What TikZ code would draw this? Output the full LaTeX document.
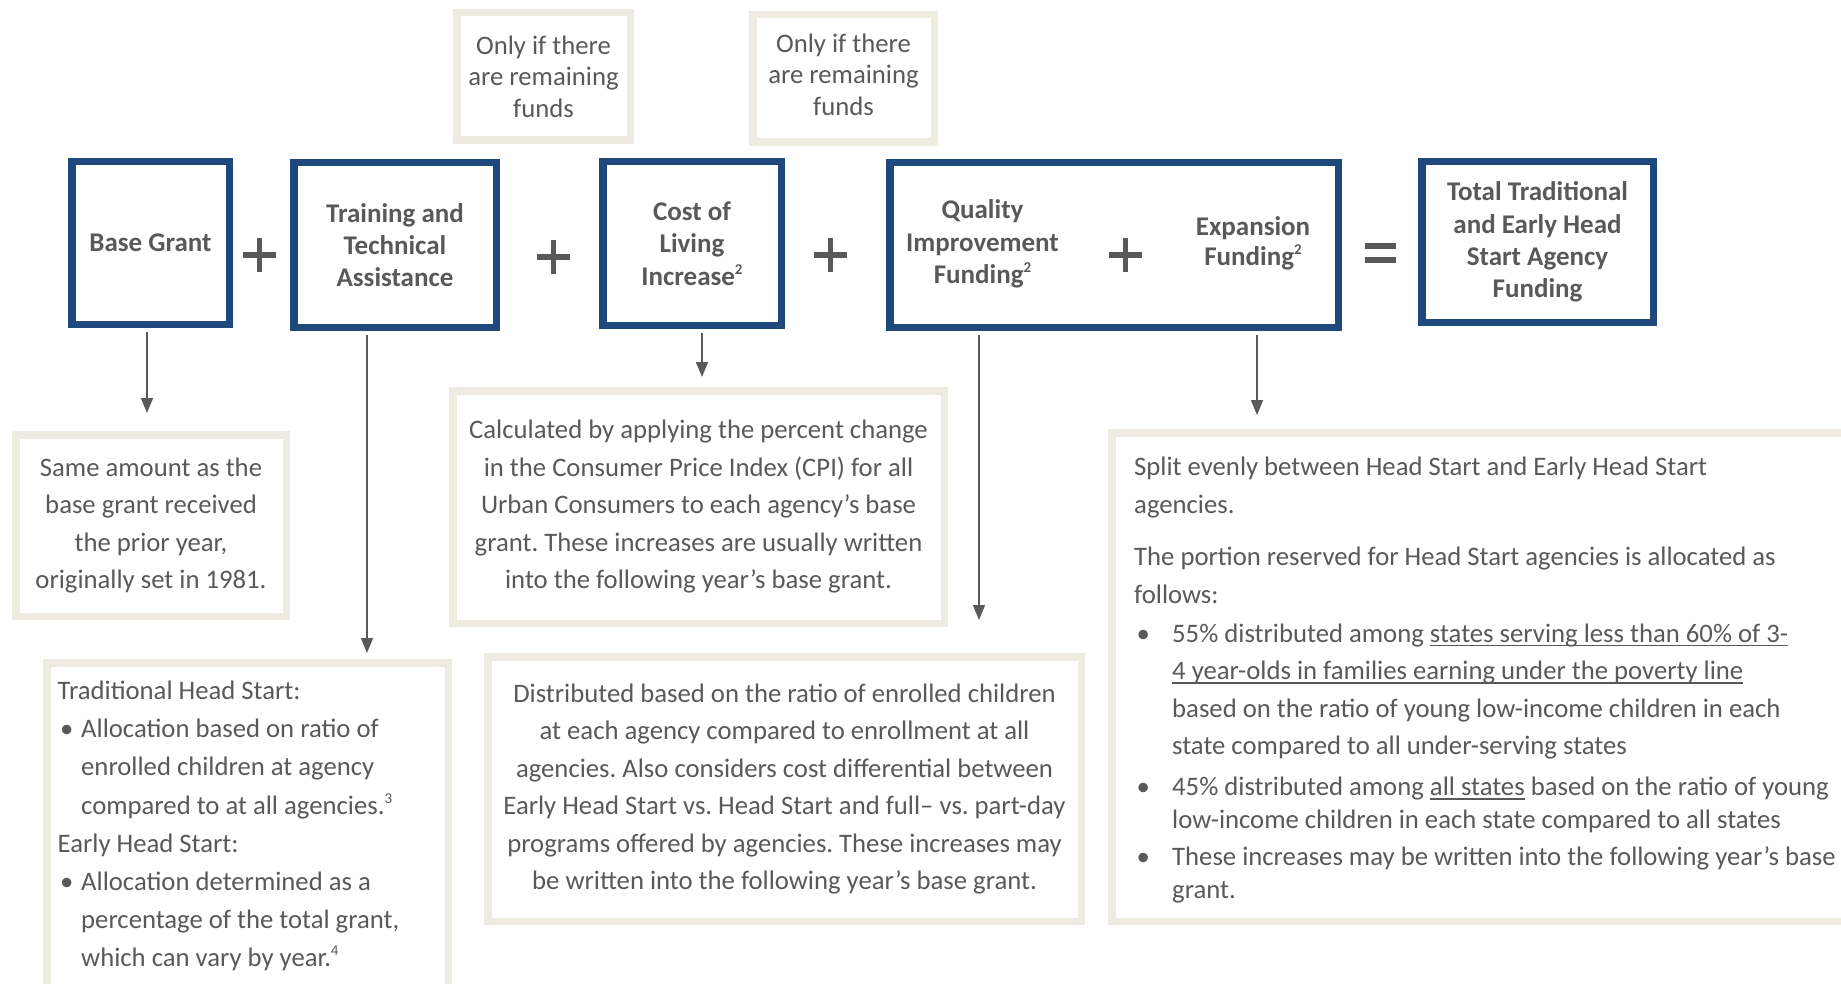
\documentclass[tikz,border=0pt]{standalone}
\usepackage{fontspec}
\setmainfont{Carlito}
\usetikzlibrary{arrows.meta}
\definecolor{navy}{RGB}{31,73,125}
\definecolor{beige}{RGB}{238,236,225}
\definecolor{txt}{RGB}{89,89,89}
\newsavebox\ulbox
\newcommand\uln[1]{\sbox\ulbox{#1}\rlap{\rule[-3.8pt]{\wd\ulbox}{1.3pt}}\usebox\ulbox}
\newcommand\sups[1]{\raisebox{11pt}{\fontsize{15}{15}\selectfont #1}}
\newcommand\bulA{\makebox[23.5pt][l]{\hspace{2.5pt}\textbullet}}
\newcommand\indA{\makebox[23.5pt]{}}
\newcommand\bulB{\makebox[38pt][l]{\hspace{2.5pt}\textbullet}}
\newcommand\indB{\makebox[38pt]{}}
\begin{document}
\frenchspacing
\begin{tikzpicture}[x=1pt,y=-1pt,
  bluebox/.style={draw=navy,line width=7.5pt,fill=white,inner sep=0pt,align=center,text=txt,font=\bfseries\fontsize{27}{32.3}\selectfont},
  beigebox/.style={draw=beige,line width=7.5pt,fill=white,inner sep=0pt,align=center,text=txt,font=\fontsize{26.7}{37.5}\selectfont},
  txtlbl/.style={inner sep=0pt,text=txt},
  conn/.style={draw=txt,line width=1.5pt,shorten <=4pt,-{Triangle[length=15pt,width=12pt]}},
  opsign/.style={draw=txt,line width=5.5pt}]
\useasboundingbox (0,0) rectangle (1841,984);
\clip (0,0) rectangle (1841,984);
\fill[white] (0,0) rectangle (1841,984);

% condition boxes
\node[beigebox,minimum width=173.5pt,minimum height=127.5pt,font=\fontsize{26.7}{31.6}\selectfont] (onlyA) at (543.5,76.5) {Only if there\\are remaining\\funds};
\node[beigebox,minimum width=181.5pt,minimum height=127.5pt] (onlyB) at (843.5,78.5) {};
\node[txtlbl,align=center,font=\fontsize{26.7}{31.6}\selectfont] (onlyBtxt) at (843.5,74.5) {Only if there\\are remaining\\funds};

% funding components
\node[bluebox,minimum width=157.5pt,minimum height=162.5pt] (base) at (150.5,243) {Base Grant};
\node[bluebox,minimum width=202.5pt,minimum height=164.5pt] (train) at (395,245) {Training and\\Technical\\Assistance};
\node[bluebox,minimum width=178.5pt,minimum height=163.5pt] (cola) at (692,243.5) {Cost of\\Living\\Increase\sups{2}};
\node[bluebox,minimum width=448.5pt,minimum height=164.5pt] (qe) at (1114,245) {};
\node[txtlbl,align=center,font=\bfseries\fontsize{27}{32.3}\selectfont] (qi) at (982.5,244) {Quality\\Improvement\\Funding\sups{2}};
\node[txtlbl,align=center,font=\bfseries\fontsize{27}{30}\selectfont] (exp) at (1253,243) {Expansion\\Funding\sups{2}};
\node[bluebox,minimum width=231.5pt,minimum height=160.5pt] (total) at (1537.5,242) {Total Traditional\\and Early Head\\Start Agency\\Funding};

% operators
\draw[opsign] (243,255) -- (276,255) (259.5,238) -- (259.5,272);
\draw[opsign] (537,257) -- (570,257) (553.5,240) -- (553.5,274);
\draw[opsign] (814,255) -- (847,255) (830.5,238) -- (830.5,272);
\draw[opsign] (1109,255) -- (1142,255) (1125.5,238) -- (1125.5,272);
\draw[opsign] (1364.5,246) -- (1395.5,246) (1364.5,260) -- (1395.5,260);

% description boxes
\node[beigebox,minimum width=270.5pt,minimum height=181.5pt] (same) at (151,525.5) {Same amount as the\\base grant received\\the prior year,\\originally set in 1981.};
\node[beigebox,minimum width=491.5pt,minimum height=232.5pt] (calc) at (698.5,507) {Calculated by applying the percent change\\in the Consumer Price Index (CPI) for all\\Urban Consumers to each agency’s base\\grant. These increases are usually written\\into the following year’s base grant.};
\node[beigebox,minimum width=401.5pt,minimum height=343.5pt] (trad) at (247.5,834.5) {};
\node[txtlbl,anchor=west,align=left,font=\fontsize{26.7}{38.2}\selectfont] (tradtxt) at (57.5,826) {Traditional Head Start:\\
\bulA Allocation based on ratio of\\
\indA enrolled children at agency\\
\indA compared to at all agencies.\sups{3}\\
Early Head Start:\\
\bulA Allocation determined as a\\
\indA percentage of the total grant,\\
\indA which can vary by year.\sups{4}};
\node[beigebox,minimum width=593.5pt,minimum height=264.5pt] (dist) at (784.5,789) {Distributed based on the ratio of enrolled children\\at each agency compared to enrollment at all\\agencies. Also considers cost differential between\\Early Head Start vs. Head Start and full– vs. part-day\\programs offered by agencies. These increases may\\be written into the following year’s base grant.};
\node[beigebox,minimum width=784.5pt,minimum height=488.5pt] (split) at (1504,677) {};
\node[txtlbl,anchor=west,align=left,font=\fontsize{26.7}{37.5}\selectfont] (splittxt) at (1134,680) {Split evenly between Head Start and Early Head Start\\
agencies.\\[15pt]
The portion reserved for Head Start agencies is allocated as\\
follows:\\[1.5pt]
\bulB 55\% distributed among \uln{states serving less than 60\% of 3-}\\
\indB \uln{4 year-olds in families earning under the poverty line}\\
\indB based on the ratio of young low-income children in each\\
\indB state compared to all under-serving states\\[3.5pt]
\bulB 45\% distributed among \uln{all states} based on the ratio of young\\[-4.7pt]
\indB low-income children in each state compared to all states\\[-1pt]
\bulB These increases may be written into the following year’s base\\[-4.5pt]
\indB grant.};

% connectors
\coordinate (e1) at (147,413);
\coordinate (e2) at (367,653);
\coordinate (e3) at (702,377);
\coordinate (e4) at (979,620);
\coordinate (e5) at (1257,415);
\draw[conn] (base.south -| e1) -- (e1);
\draw[conn] (train.south -| e2) -- (e2);
\draw[conn] (cola.south -| e3) -- (e3);
\draw[conn] (qe.south -| e4) -- (e4);
\draw[conn] (qe.south -| e5) -- (e5);
\end{tikzpicture}
\end{document}
